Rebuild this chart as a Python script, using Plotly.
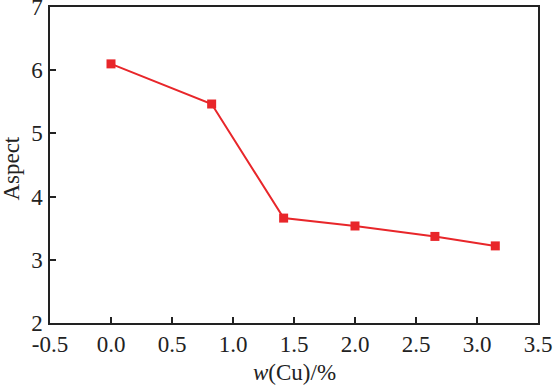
import plotly.graph_objects as go

cu = [0.0, 0.825, 1.415, 2.0, 2.655, 3.15]
aspect = [6.10, 5.465, 3.66, 3.535, 3.37, 3.22]
x_ticks = [-0.5, 0.0, 0.5, 1.0, 1.5, 2.0, 2.5, 3.0, 3.5]
y_ticks = [2, 3, 4, 5, 6, 7]

fig = go.Figure(go.Scatter(
    x=cu, y=aspect, mode="lines+markers",
    line=dict(color="#e8262a", width=2),
    marker=dict(symbol="square", size=9, color="#e8262a"),
    cliponaxis=False,
))

FAM = "Liberation Serif"
font = dict(family=FAM, size=23, color="#222")
fig.update_layout(
    width=555, height=385,
    margin=dict(l=50, r=17, t=7, b=62, autoexpand=False),
    paper_bgcolor="white", plot_bgcolor="white",
    showlegend=False, font=font,
)
fig.update_xaxes(
    range=[-0.5, 3.5], tickvals=x_ticks, ticktext=[f"{v:.1f}" for v in x_ticks],
    ticks="inside", ticklen=6, tickcolor="#222", tickwidth=1.5,
    showline=True, linecolor="#222", linewidth=1.5, mirror=True,
    showgrid=False, zeroline=False, automargin=False,
    ticklabelstandoff=0, tickfont=font, ticklabeloverflow="allow",
)
fig.update_yaxes(
    range=[2, 7], tickvals=y_ticks,
    ticks="inside", ticklen=6, tickcolor="#222", tickwidth=1.5,
    showline=True, linecolor="#222", linewidth=1.5, mirror=True,
    showgrid=False, zeroline=False, automargin=False,
    ticklabelstandoff=1, tickfont=font, ticklabeloverflow="allow",
)
fig.add_annotation(
    text="<i>w</i>(Cu)/%", xref="paper", yref="paper",
    x=0.5, y=-0.158, xanchor="center", yanchor="middle",
    showarrow=False, font=font,
)
fig.add_annotation(
    text="Aspect", xref="paper", yref="paper",
    x=-0.079, y=0.49, xanchor="center", yanchor="middle",
    textangle=-90, showarrow=False, font=font,
)
fig.write_html(
    "out.html",
    config={"displayModeBar": False},
    post_script="document.body.style.margin='0';document.body.style.overflow='hidden';",
)
